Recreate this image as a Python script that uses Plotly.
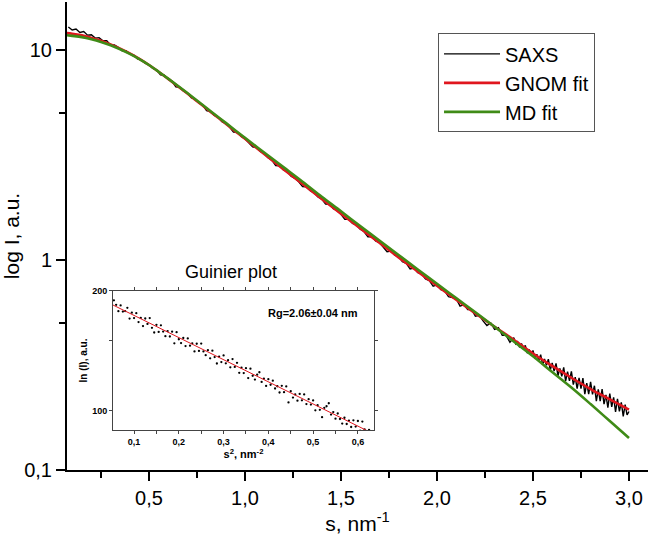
import plotly.graph_objects as go

# ---------------- main SAXS curve ----------------
s_saxs = ([round(0.08 + 0.02 * i, 2) for i in range(116)]
          + [round(2.40 + 0.01 * i, 2) for i in range(61)])
I_saxs = [
    12.88, 12.47, 12.59, 12.13, 12.25, 11.78, 11.83, 11.40, 11.46, 11.07,
    11.07, 10.54, 10.59, 10.30, 9.91, 9.93, 9.59, 9.48, 9.08, 8.99,
    8.67, 8.51, 8.17, 8.04, 7.62, 7.59, 7.26, 7.10, 6.68, 6.64,
    6.37, 6.24, 5.93, 5.82, 5.60, 5.47, 5.15, 5.09, 4.89, 4.79,
    4.56, 4.47, 4.30, 4.07, 4.06, 3.88,
    3.78, 3.63, 3.46, 3.43, 3.29, 3.21, 3.07, 2.99, 2.82, 2.81,
    2.69, 2.64, 2.51, 2.45, 2.36, 2.24, 2.23, 2.14, 2.09, 2.00,
    1.950, 1.849, 1.841, 1.758, 1.718, 1.652, 1.563, 1.563, 1.493, 1.469,
    1.403, 1.368, 1.291, 1.294, 1.233, 1.211, 1.153, 1.096, 1.104, 1.054,
    1.038, 0.982, 0.964, 0.906, 0.916, 0.871, 0.859, 0.813, 0.798, 0.750,
    0.762, 0.723, 0.713, 0.670, 0.662, 0.655, 0.603, 0.614, 0.581, 0.582,
    0.540, 0.546, 0.513, 0.488, 0.502, 0.468, 0.476, 0.438, 0.438, 0.406,
    # 2.40 ... 3.00 (denser, noisy tail)
    0.427, 0.399, 0.408, 0.384, 0.400, 0.378, 0.392, 0.360, 0.375, 0.353,
    0.371, 0.338, 0.356, 0.332, 0.354, 0.317, 0.338, 0.315, 0.337, 0.299,
    0.324, 0.296, 0.322, 0.281, 0.305, 0.279, 0.308, 0.265, 0.294, 0.266,
    0.295, 0.255, 0.277, 0.244, 0.275, 0.244, 0.274, 0.230, 0.259, 0.230,
    0.263, 0.229, 0.252, 0.213, 0.242, 0.213, 0.243, 0.206, 0.228, 0.198,
    0.231, 0.200, 0.222, 0.189, 0.218, 0.190, 0.210, 0.180, 0.205, 0.183,
    0.190,
]

# ---------------- fits ----------------
s_fit = [0.07, 0.10, 0.15, 0.20, 0.25, 0.30, 0.35, 0.40, 0.45, 0.50,
         0.55, 0.60, 0.65, 0.70, 0.75, 0.80, 0.85, 0.90, 0.95, 1.00,
         1.10, 1.20, 1.30, 1.40, 1.50, 1.60, 1.70, 1.80, 1.90, 2.00,
         2.10, 2.20, 2.30, 2.40, 2.50, 2.60, 2.70, 2.80, 2.90, 3.00]
I_gnom = [12.05, 11.97, 11.75, 11.43, 11.07, 10.64, 10.16, 9.64, 9.08, 8.49,
          7.89, 7.29, 6.73, 6.21, 5.71, 5.26, 4.84, 4.46, 4.10, 3.78,
          3.20, 2.71, 2.30, 1.954, 1.663, 1.416, 1.208, 1.030, 0.881, 0.755,
          0.647, 0.557, 0.481, 0.417, 0.359, 0.313, 0.275, 0.243, 0.217, 0.194]
I_md = [11.78, 11.69, 11.53, 11.27, 10.94, 10.54, 10.09, 9.59, 9.06, 8.49,
        7.89, 7.31, 6.76, 6.24, 5.75, 5.30, 4.88, 4.50, 4.14, 3.82,
        3.25, 2.77, 2.36, 2.00, 1.706, 1.452, 1.239, 1.057, 0.902, 0.771,
        0.659, 0.564, 0.481, 0.409, 0.348, 0.293, 0.247, 0.206, 0.171, 0.142]

# ---------------- Guinier inset ----------------
s2_guinier = [round(0.055 + 0.005 * i, 3) for i in range(116)]
I_guinier = [
    189.5, 184.6, 178.0, 184.0, 177.5, 178.1, 181.4, 170.5, 176.4, 171.0,
    175.9, 167.1, 171.1, 163.3, 170.6, 165.3, 171.0, 161.6, 157.3, 164.5,
    157.8, 164.0, 158.2, 154.0, 158.6, 153.7, 158.1, 147.8, 157.6, 151.3,
    148.0, 152.4, 145.4, 152.0, 145.8, 147.8, 141.0, 147.4, 141.4, 147.6,
    141.0, 138.0, 142.0, 135.5, 141.6, 136.5, 131.5, 136.9, 132.6, 137.8,
    131.6, 134.0, 128.6, 134.9, 128.9, 132.0, 124.6, 128.3, 124.4, 128.0,
    120.9, 127.6, 122.5, 119.8, 123.3, 125.0, 118.2, 120.4, 115.5, 120.1,
    116.3, 119.1, 113.8, 115.3, 111.2, 115.6, 111.4, 115.2, 105.0, 112.0,
    108.0, 110.0, 106.1, 110.3, 106.3, 110.0, 104.0, 107.0, 103.7, 106.2,
    100.3, 103.3, 100.6, 96.4, 101.8, 102.7, 104.5, 97.9, 99.3, 95.6,
    98.5, 95.4, 92.9, 96.1, 92.7, 94.5, 91.1, 94.7, 91.3, 94.3,
    89.2, 94.0, 89.8, 88.4, 89.6, 87.7,
]
s2_line = [0.05, 0.64]
I_line = [185.1, 87.0]

# ---------------- tick labels ----------------
x_ticks = [0.5, 1.0, 1.5, 2.0, 2.5, 3.0]
x_ticktext = ["0,5", "1,0", "1,5", "2,0", "2,5", "3,0"]
x_minor = [0.25, 0.75, 1.25, 1.75, 2.25, 2.75]
y_ticks = [0.1, 1, 10]
y_ticktext = ["0,1", "1", "10"]
y_minor = [0.5, 5]
x2_ticks = [0.1, 0.2, 0.3, 0.4, 0.5, 0.6]
x2_ticktext = ["0,1", "0,2", "0,3", "0,4", "0,5", "0,6"]
x2_minor = [0.15, 0.25, 0.35, 0.45, 0.55]
y2_ticks = [100, 200]
y2_ticktext = ["100", "200"]
y2_minor = [150]

RED = "#E0161E"
GREEN = "#3F8B17"
FONT = "Arial, Liberation Sans, sans-serif"

fig = go.Figure()
fig.add_trace(go.Scatter(x=s_saxs, y=I_saxs, mode="lines", name="SAXS",
                         line=dict(color="black", width=1.4)))
fig.add_trace(go.Scatter(x=s_fit, y=I_gnom, mode="lines", name="GNOM fit",
                         line=dict(color=RED, width=2.6, shape="spline")))
fig.add_trace(go.Scatter(x=s_fit, y=I_md, mode="lines", name="MD fit",
                         line=dict(color=GREEN, width=2.6, shape="spline")))
fig.add_trace(go.Scatter(x=s2_guinier, y=I_guinier, mode="markers",
                         marker=dict(color="black", size=2.3),
                         xaxis="x2", yaxis="y2", showlegend=False))
fig.add_trace(go.Scatter(x=s2_line, y=I_line, mode="lines",
                         line=dict(color=RED, width=1),
                         xaxis="x2", yaxis="y2", showlegend=False))

inset_tick = dict(showgrid=False, zeroline=False, showline=True, mirror="ticks",
                  linecolor="#444444", linewidth=1, automargin=False,
                  ticks="outside", ticklen=3, tickwidth=1, tickcolor="#444444",
                  tickmode="array", tickfont=dict(size=9, weight="bold"))

fig.update_layout(
    width=650, height=535,
    margin=dict(l=67, r=2, t=2, b=65, autoexpand=False),
    paper_bgcolor="white", plot_bgcolor="white",
    font=dict(family=FONT, color="black"),
    showlegend=True,
    legend=dict(x=0.6386, y=0.933, xanchor="left", yanchor="top",
                bordercolor="#555555", borderwidth=1, bgcolor="white",
                font=dict(size=20, family=FONT), tracegroupgap=0, itemwidth=56),
    xaxis=dict(domain=[0, 1], range=[0.073, 3.099], showgrid=False, zeroline=False,
               showline=True, linecolor="black", linewidth=2, automargin=False,
               ticks="outside", ticklen=9, tickwidth=2, tickcolor="black",
               tickmode="array", tickvals=x_ticks, ticktext=x_ticktext,
               tickfont=dict(size=20),
               minor=dict(ticks="outside", ticklen=6, tickwidth=2, tickcolor="black",
                          tickmode="array", tickvals=x_minor, showgrid=False),
               title=dict(text="s, nm<sup>-1</sup>", font=dict(size=21), standoff=6)),
    yaxis=dict(type="log", domain=[0, 1], range=[-1, 1.229], showgrid=False, zeroline=False,
               showline=True, linecolor="black", linewidth=2, automargin=False,
               ticks="outside", ticklen=9, tickwidth=2, tickcolor="black",
               tickmode="array", tickvals=y_ticks, ticktext=y_ticktext,
               tickfont=dict(size=20),
               minor=dict(ticks="outside", ticklen=6, tickwidth=2, tickcolor="black",
                          tickmode="array", tickvals=y_minor, showgrid=False),
               title=dict(text="log I, a.u.", font=dict(size=21), standoff=10)),
    xaxis2=dict(domain=[0.0792, 0.5284], anchor="y2", range=[0.053, 0.636],
                tickvals=x2_ticks, ticktext=x2_ticktext,
                minor=dict(ticks="outside", ticklen=3, tickwidth=1, tickcolor="#444444",
                           tickmode="array", tickvals=x2_minor, showgrid=False),
                title=dict(text="<b>s<sup>2</sup>, nm<sup>-2</sup></b>",
                           font=dict(size=11), standoff=3),
                **inset_tick),
    yaxis2=dict(domain=[0.0855, 0.3825], anchor="x2", type="log", range=[1.952, 2.301],
                tickvals=y2_ticks, ticktext=y2_ticktext,
                minor=dict(ticks="outside", ticklen=3, tickwidth=1, tickcolor="#444444",
                           tickmode="array", tickvals=y2_minor, showgrid=False),
                title=dict(text="<b>ln (I), a.u.</b>", font=dict(size=10), standoff=2),
                **inset_tick),
    annotations=[
        dict(text="Guinier plot", xref="paper", yref="paper", x=0.282, y=0.423,
             showarrow=False, font=dict(size=18), xanchor="center", yanchor="middle"),
        dict(text="<b>Rg=2.06±0.04 nm</b>", xref="paper", yref="paper", x=0.4234, y=0.3355,
             showarrow=False, font=dict(size=11), xanchor="center", yanchor="middle"),
    ],
)

fig.write_html("out.html", config={"displayModeBar": False},
               post_script="document.body.style.margin='0';document.body.style.padding='0';")
